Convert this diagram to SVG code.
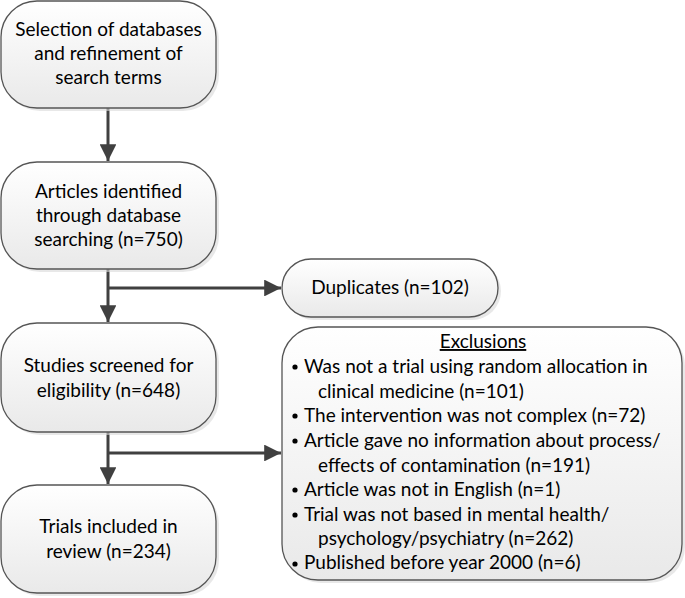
<svg xmlns="http://www.w3.org/2000/svg" width="685" height="598" viewBox="0 0 685 598">
<style>
.box{fill:url(#g);stroke:#555;stroke-width:1.3}
.sh{fill:#d9d9d9;opacity:0.6}
text{font-family:Lato,"Liberation Sans",sans-serif;font-size:19px;fill:#000}
.c{text-anchor:middle}
.con{stroke:#404040;stroke-width:3;fill:none}
</style>
<defs>
<linearGradient id="g" x1="0" y1="0" x2="0" y2="1">
<stop offset="0" stop-color="#ffffff"/>
<stop offset="1" stop-color="#e9e9e9"/>
</linearGradient>
<marker id="ah" viewBox="0 0 10 10" refX="10" refY="5" markerWidth="6" markerHeight="5.6" markerUnits="strokeWidth" orient="auto">
<path d="M0,0 L10,5 L0,10 Z" fill="#404040"/>
</marker>
</defs>
<g id="connectors">
<line class="con" x1="108" y1="108" x2="108" y2="161" marker-end="url(#ah)"/>
<line class="con" x1="108" y1="269" x2="108" y2="322" marker-end="url(#ah)"/>
<line class="con" x1="108" y1="288" x2="281" y2="288" marker-end="url(#ah)"/>
<line class="con" x1="108" y1="432" x2="108" y2="484" marker-end="url(#ah)"/>
<line class="con" x1="108" y1="453" x2="281" y2="453" marker-end="url(#ah)"/>
</g>
<g id="n1">
<rect class="sh" x="4" y="4" width="215" height="107" rx="36"/>
<rect class="box" x="1" y="1" width="215" height="107" rx="36"/>
<text class="c" x="108.5" y="36">Selection of databases</text>
<text class="c" x="108.5" y="60">and refinement of</text>
<text class="c" x="108.5" y="84">search terms</text>
</g>
<g id="n2">
<rect class="sh" x="4" y="165" width="215" height="107" rx="36"/>
<rect class="box" x="1" y="162" width="215" height="107" rx="36"/>
<text class="c" x="108.5" y="198">Articles identified</text>
<text class="c" x="108.5" y="222">through database</text>
<text class="c" x="108.5" y="246">searching (n=750)</text>
</g>
<g id="n3">
<rect class="sh" x="4" y="326" width="215" height="109" rx="36"/>
<rect class="box" x="1" y="323" width="215" height="109" rx="36"/>
<text class="c" x="108.5" y="372">Studies screened for</text>
<text class="c" x="108.5" y="397">eligibility (n=648)</text>
</g>
<g id="n4">
<rect class="sh" x="4" y="488" width="215" height="108" rx="36"/>
<rect class="box" x="1" y="485" width="215" height="108" rx="36"/>
<text class="c" x="108.5" y="533">Trials included in</text>
<text class="c" x="108.5" y="558">review (n=234)</text>
</g>
<g id="dup">
<rect class="sh" x="285" y="262" width="216" height="58" rx="29"/>
<rect class="box" x="282" y="259" width="216" height="58" rx="29"/>
<text class="c" x="390" y="294">Duplicates (n=102)</text>
</g>
<g id="excl">
<rect class="sh" x="285" y="330" width="400" height="253" rx="36"/>
<rect class="box" x="282" y="327" width="400" height="253" rx="36"/>
<text class="c" x="483" y="348" text-decoration="underline">Exclusions</text>
<g>
<circle cx="295" cy="367" r="2.6"/>
<circle cx="295" cy="416" r="2.6"/>
<circle cx="295" cy="441" r="2.6"/>
<circle cx="295" cy="490" r="2.6"/>
<circle cx="295" cy="515" r="2.6"/>
<circle cx="295" cy="564" r="2.6"/>
</g>
<text x="304" y="373">Was not a trial using random allocation in</text>
<text x="318" y="398">clinical medicine (n=101)</text>
<text x="304" y="422">The intervention was not complex (n=72)</text>
<text x="304" y="447">Article gave no information about process/</text>
<text x="318" y="472">effects of contamination (n=191)</text>
<text x="304" y="496">Article was not in English (n=1)</text>
<text x="304" y="521">Trial was not based in mental health/</text>
<text x="318" y="545">psychology/psychiatry (n=262)</text>
<text x="304" y="569">Published before year 2000 (n=6)</text>
</g>
</svg>
